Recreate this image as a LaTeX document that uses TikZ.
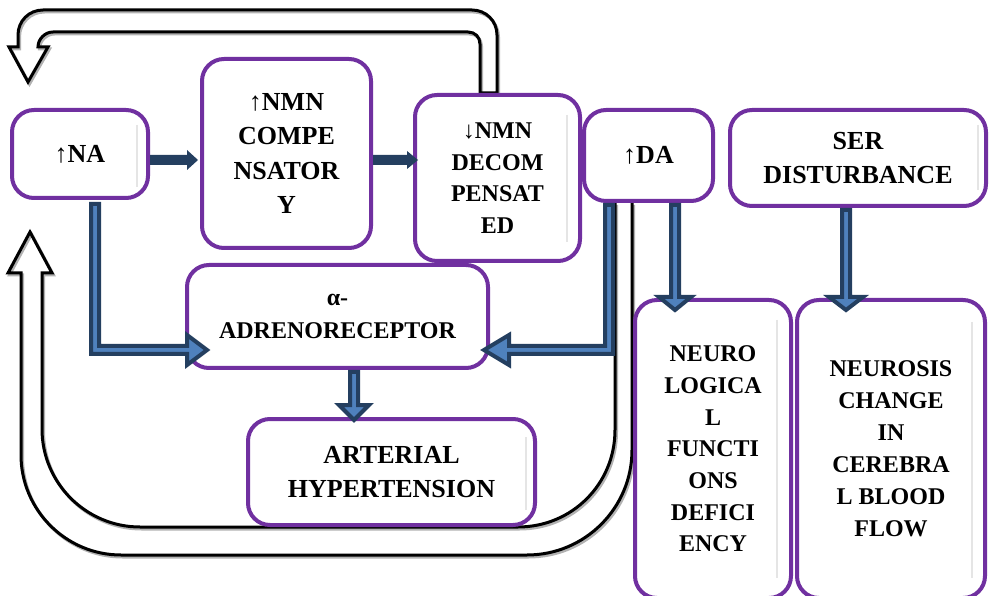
\documentclass[tikz,border=0pt]{standalone}
\usepackage{fontspec}
\setmainfont{Liberation Serif}
\definecolor{boxpurple}{HTML}{7030A0}
\definecolor{arrblue}{HTML}{4F81BD}
\definecolor{arrnavy}{HTML}{243F60}
\tikzset{
  box/.style={draw=boxpurple, line width=4pt, rounded corners=22pt, fill=white,
    align=center, inner sep=0pt, text=black},
  bigtxt/.style={font=\bfseries\fontsize{26}{34.5}\selectfont},
  midtxt/.style={font=\bfseries\fontsize{24}{31.5}\selectfont},
  bluearr/.style={fill=arrblue, draw=arrnavy, line width=4pt, line join=miter},
  navyarr/.style={fill=arrnavy, draw=none},
  hollow/.style={draw=black, line width=3pt, line join=miter},
  hollowshadow/.style={draw=black!30, line width=3pt, line join=miter, xshift=1.5pt, yshift=-2pt},
  ghost/.style={draw=black!10, line width=1.5pt}
}
\begin{document}
\begin{tikzpicture}[x=1pt,y=-1pt]
\useasboundingbox (0,0) rectangle (989,596);

% hollow feedback arrows (behind boxes)
\foreach \st in {hollowshadow,hollow}{
  % top arrow from DECOMP back to NA
  \draw[\st] (480,93) -- (480,44) .. controls (480,37) and (475,32) .. (468,32)
    -- (53,32) .. controls (45,32) and (38,39) .. (38,47)
    -- (48,47) -- (28,82) -- (9,47) -- (18,47) -- (18,35)
    .. controls (18,21) and (29,10) .. (43,10)
    -- (472,10) .. controls (486,10) and (497,21) .. (497,35)
    -- (497,93) -- cycle;
  % bottom loop from DA back up to NA
  \draw[\st] (632,203) -- (632,450) .. controls (632,508) and (585,555) .. (527,555)
    -- (121,555) .. controls (66,555) and (21,510) .. (21,455)
    -- (21,273) -- (8,273) -- (30,232) -- (52,273) -- (42,273)
    -- (42,429) .. controls (42,483) and (86,527) .. (140,527)
    -- (518,527) .. controls (572,527) and (615,484) .. (615,430)
    -- (615,203);
}

% boxes
\node[box,bigtxt,minimum width=136pt,minimum height=88pt] (na) at (80,154) {↑NA};
\node[box,bigtxt,minimum width=169pt,minimum height=189pt] (nmnc) at (286.5,153.5) {↑NMN\\COMPE\\NSATOR\\Y};
\node[box,midtxt,minimum width=165pt,minimum height=166pt] (nmnd) at (497.5,178) {↓NMN\\DECOM\\PENSAT\\ED};
\node[box,bigtxt,minimum width=129pt,minimum height=91pt] (da) at (648.5,155.5) {↑DA};
\node[box,bigtxt,minimum width=256pt,minimum height=96pt] (ser) at (858,158) {SER\\DISTURBANCE};
\node[box,midtxt,font=\bfseries\fontsize{24}{33}\selectfont,minimum width=301pt,minimum height=103pt] (alpha) at (337.5,316.5) {α-\\ADRENORECEPTOR};
\node[box,bigtxt,minimum width=287pt,minimum height=106pt] (art) at (391.5,472) {ARTERIAL\\HYPERTENSION};
\node[box,midtxt,font=\bfseries\fontsize{24}{31.7}\selectfont,minimum width=156pt,minimum height=298pt] (neuro) at (713,449) {NEURO\\LOGICA\\L\\FUNCTI\\ONS\\DEFICI\\ENCY};
\node[box,midtxt,font=\bfseries\fontsize{24}{32}\selectfont,minimum width=188pt,minimum height=298pt] (neurosis) at (891,449) {NEUROSIS\\CHANGE\\IN\\CEREBRA\\L BLOOD\\FLOW};

% faint text-frame lines
\draw[ghost] (137,125) -- (137,187);
\draw[ghost] (567,115) -- (567,242);
\draw[ghost] (978,125) -- (978,190);
\draw[ghost] (526,437) -- (526,510);
\draw[ghost] (777,320) -- (777,578);
\draw[ghost] (972,322) -- (972,578);

% navy arrows
\path[navyarr] (150,155) -- (187,155) -- (187,150) -- (198,160) -- (187,170) -- (187,165) -- (150,165) -- cycle;
\path[navyarr] (373,155) -- (407,155) -- (407,151) -- (418,160) -- (407,169) -- (407,165) -- (373,165) -- cycle;

% blue block arrows
\draw[bluearr] (91,204) -- (91,354) -- (187,354) -- (187,365) -- (207,350) -- (187,335) -- (187,346) -- (99,346) -- (99,204) -- cycle;
\draw[bluearr] (605,205) -- (605,346) -- (509,346) -- (509,335) -- (484,350) -- (509,365) -- (509,354) -- (613,354) -- (613,205) -- cycle;
\draw[bluearr] (671,205) -- (671,297) -- (659,297) -- (675,310) -- (691,297) -- (679,297) -- (679,205) -- cycle;
\draw[bluearr] (842,210) -- (842,297) -- (829,297) -- (846,310) -- (863,297) -- (850,297) -- (850,210) -- cycle;
\draw[bluearr] (350,372) -- (350,405) -- (339,405) -- (354,420) -- (369,405) -- (358,405) -- (358,372) -- cycle;
\end{tikzpicture}
\end{document}
